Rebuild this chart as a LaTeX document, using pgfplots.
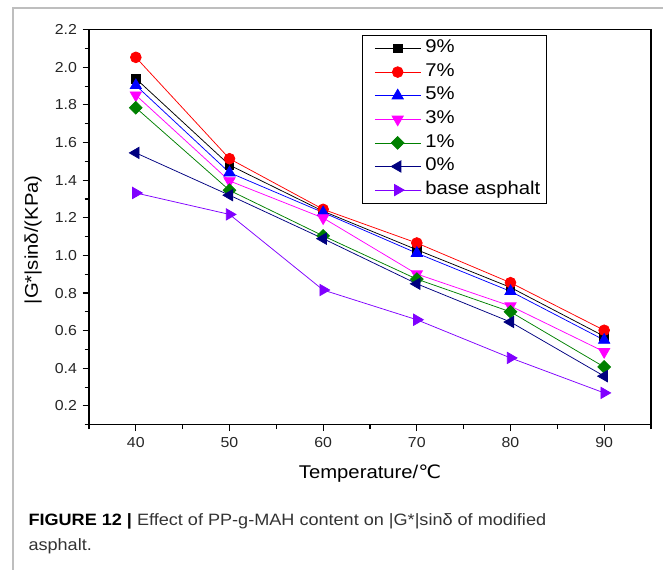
\documentclass[border=0pt]{standalone}
\usepackage{fontspec}
\setmainfont{Liberation Sans}[FakeStretch=1.1]
\newfontfamily\dejavu{DejaVu Sans}[FakeStretch=1.1]
\usepackage{pgfplots}
\pgfplotsset{compat=1.18}
\definecolor{cA}{RGB}{0,0,0}
\definecolor{cB}{RGB}{255,0,0}
\definecolor{cC}{RGB}{0,0,255}
\definecolor{cD}{RGB}{255,0,255}
\definecolor{cE}{RGB}{0,128,0}
\definecolor{cF}{RGB}{0,0,128}
\definecolor{cG}{RGB}{128,0,255}
\definecolor{framegray}{RGB}{190,190,190}
\begin{document}
\begin{tikzpicture}
\path[use as bounding box] (0bp,0bp) rectangle (663bp,570bp);
\draw[framegray, line width=2bp] (12.7bp,-5bp) -- (12.7bp,562bp) -- (670bp,562bp);
\begin{axis}[
  at={(89bp,145.3bp)}, anchor=south west,
  scale only axis, width=562bp, height=395bp,
  xmin=35, xmax=95, ymin=0.1, ymax=2.2,
  xtick={40,50,60,70,80,90},
  minor xtick={35,45,55,65,75,85,95},
  ytick={0.2,0.4,...,2.21},
  minor ytick={0.1,0.3,...,2.15},
  xtick pos=left, ytick pos=left,
  tick align=outside,
  major tick length=6.5bp, minor tick length=4.5bp,
  axis line style={line width=1.3bp},
  every tick/.style={line width=1.1bp, black},
  every minor tick/.style={line width=1.1bp, black},
  yticklabel style={/pgf/number format/fixed, /pgf/number format/fixed zerofill, /pgf/number format/precision=1, xshift=-2bp},
  xticklabel style={yshift=-2.5bp},
  /pgf/number format/assume math mode=true,
  tick label style={font=\fontsize{14.5}{14.5}\selectfont, color=black!85},
  xlabel={Temperature/{\dejavu ℃}},
  ylabel={|G*|sinδ/(KPa)},
  xlabel style={font=\fontsize{18.5}{18.5}\selectfont, at={(axis description cs:0.5,-0.124)}, anchor=center},
  ylabel style={font=\fontsize{18.5}{18.5}\selectfont, at={(axis description cs:-0.0996,0.468)}, anchor=center, rotate=0},
  legend style={at={(0.486,0.987)}, anchor=north west, draw=black, line width=0.8bp,
    font=\fontsize{18.5}{18.5}\selectfont, row sep=2.1bp, inner xsep=4bp, inner ysep=2.5bp,
    nodes={inner sep=2bp, text height=13bp, text depth=4.5bp}},
  legend cell align=left,
  legend image code/.code={\path (0bp,0bp) (56bp,0bp); \draw[mark repeat=2,mark phase=2] plot coordinates {(8bp,0bp)(30.8bp,0bp)(53.6bp,0bp)};},
  every axis plot/.append style={line width=0.75bp},
]
\addplot[cA, mark=square*, mark size=4.3bp, mark options={solid, fill=cA}] coordinates {(40,1.94)(50,1.48)(60,1.235)(70,1.03)(80,0.83)(90,0.57)};
\addlegendentry{9\%}
\addplot[cB, mark=*, mark size=5.4bp, mark options={solid, fill=cB}] coordinates {(40,2.053)(50,1.514)(60,1.245)(70,1.066)(80,0.855)(90,0.602)};
\addlegendentry{7\%}
\addplot[cC, mark=triangle*, mark size=6.5bp, mark options={solid, fill=cC}] coordinates {(40,1.904)(50,1.44)(60,1.228)(70,1.012)(80,0.809)(90,0.55)};
\addlegendentry{5\%}
\addplot[cD, mark=triangle*, mark size=6.5bp, mark options={solid, fill=cD, rotate=180}] coordinates {(40,1.852)(50,1.396)(60,1.199)(70,0.901)(80,0.731)(90,0.488)};
\addlegendentry{3\%}
\addplot[cE, mark=square*, mark size=4.5bp, mark options={solid, fill=cE, rotate=45}] coordinates {(40,1.785)(50,1.346)(60,1.104)(70,0.874)(80,0.70)(90,0.407)};
\addlegendentry{1\%}
\addplot[cF, mark=triangle*, mark size=6.5bp, mark options={solid, fill=cF, rotate=90}] coordinates {(40,1.545)(50,1.32)(60,1.089)(70,0.849)(80,0.646)(90,0.358)};
\addlegendentry{0\%}
\addplot[cG, mark=triangle*, mark size=6.5bp, mark options={solid, fill=cG, rotate=-90}] coordinates {(40,1.332)(50,1.218)(60,0.816)(70,0.658)(80,0.455)(90,0.269)};
\addlegendentry{base asphalt}
\end{axis}
\node[anchor=base west, inner sep=0pt, font=\fontsize{16.5}{16.5}\selectfont, color=black!80] at (28.3bp,44.3bp) {{\bfseries\color{black}FIGURE 12 |} Effect of PP-g-MAH content on |G*|sinδ of modified};
\node[anchor=base west, inner sep=0pt, font=\fontsize{16.5}{16.5}\selectfont, color=black!80] at (28.3bp,19.3bp) {asphalt.};
\end{tikzpicture}
\end{document}
